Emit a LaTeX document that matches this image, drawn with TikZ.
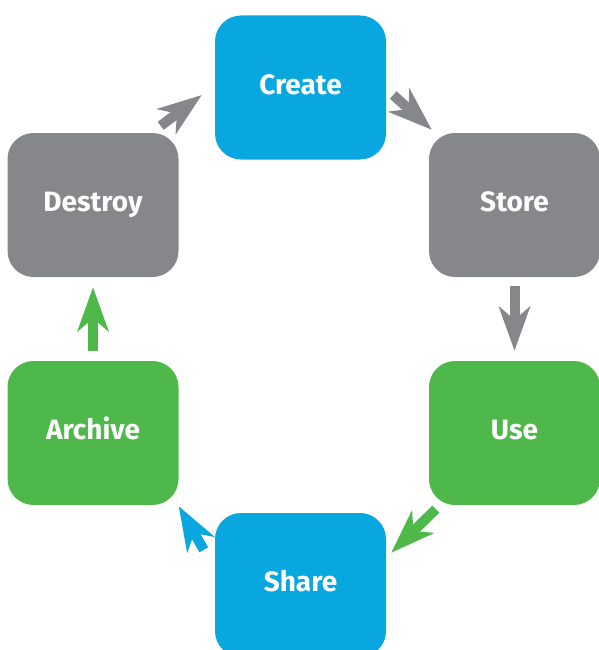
\documentclass[tikz,border=0pt]{standalone}
\usepackage{fontspec}
\setmainfont{Fira Sans}
\usetikzlibrary{arrows.meta}
\definecolor{lcblue}{RGB}{9,167,223}
\definecolor{lcgray}{RGB}{134,135,139}
\definecolor{lcgreen}{RGB}{78,184,74}
\begin{document}
\begin{tikzpicture}[x=1pt,y=-1pt,
  stage/.style={rectangle, rounded corners=26pt, minimum width=171pt, minimum height=144pt,
    inner sep=0pt, text=white, text height=19.3pt, text depth=6pt,
    font=\fontsize{28}{32}\selectfont\bfseries},
  flow/.style={line width=10pt, -{Stealth[length=44pt,width=31pt,inset=13pt]}}]
\useasboundingbox (0,0) rectangle (598,650);
% the six stages of the cycle
\node[stage, fill=lcblue]  (create)  at (300.5,87.5) {Create};
\node[stage, fill=lcgray]  (store)   at (514.5,205)  {Store};
\node[stage, fill=lcgreen] (use)     at (514.5,433)  {Use};
\node[stage, fill=lcblue]  (share)   at (300.5,585)  {Share};
\node[stage, fill=lcgreen] (archive) at (93,433)     {Archive};
\node[stage, fill=lcgray]  (destroy) at (93,205)     {Destroy};
% arrows between consecutive stages
\draw[flow, lcgray]  ([shift={(7,7.5)}]create.east) -- ([shift={(3,-3)}]store.north west);
\draw[flow, lcgray]  ([shift={(0,9)}]store.south) -- ([shift={(0,-10)}]use.north);
\draw[flow, lcgreen] ([shift={(7,4)}]use.south west) -- ([shift={(5,40)}]share.north east);
\draw[flow, lcblue]  ([shift={(-11,37)}]share.north west) -- ([shift={(0,1)}]archive.south east);
\draw[flow, lcgreen] ([shift={(0,-10)}]archive.north) -- ([shift={(0,10)}]destroy.south);
\draw[flow, lcgray]  ([shift={(-18,-7)}]destroy.north east) -- ([shift={(-13,7.5)}]create.west);
\end{tikzpicture}
\end{document}
